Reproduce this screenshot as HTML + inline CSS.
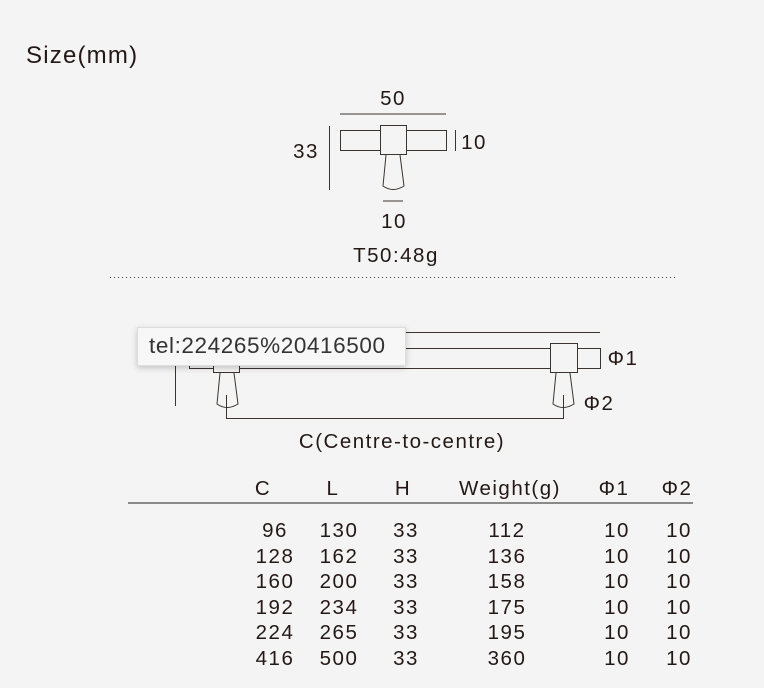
<!DOCTYPE html>
<html><head><meta charset="utf-8"><style>
html,body{margin:0;padding:0;background:#f4f4f4;width:764px;height:688px;overflow:hidden}
svg{display:block}
text{font-family:"Liberation Sans",sans-serif;fill:#231815}
.t{font-size:20.5px;letter-spacing:1.5px}
.tip{position:absolute;left:137px;top:327px;width:269px;height:39px;background:#f7f7f7;border:1px solid #ddd;box-shadow:0 2px 6px rgba(0,0,0,.2);box-sizing:border-box;font-family:"Liberation Sans",sans-serif;font-size:22.5px;color:#333;padding:5px 0 0 11px;letter-spacing:.6px;white-space:nowrap}
</style></head><body>
<svg width="764" height="688" viewBox="0 0 764 688" xmlns="http://www.w3.org/2000/svg">
<g stroke="#3a3330" fill="none" stroke-width="1">
<line x1="340" y1="114" x2="446" y2="114"/>
<rect x="340.5" y="130.5" width="106" height="20"/>
<rect x="380.5" y="125.5" width="26" height="29" fill="#f4f4f4"/>
<line x1="329.5" y1="126" x2="329.5" y2="190"/>
<line x1="455.5" y1="130" x2="455.5" y2="151"/>
<path d="M386 155 L383 186 Q393 193 404 186 L400 155"/>
<line x1="383" y1="201" x2="403" y2="201"/>
<line x1="110" y1="277.5" x2="676" y2="277.5" stroke-dasharray="1 3"/>
<line x1="185" y1="332.5" x2="600" y2="332.5"/>
<rect x="189.5" y="348.5" width="411" height="20"/>
<rect x="550.5" y="343.5" width="27" height="29" fill="#f4f4f4"/>
<rect x="213.5" y="343.5" width="26" height="29" fill="#f4f4f4"/>
<line x1="175.5" y1="340" x2="175.5" y2="406"/>
<path d="M220 373 L217 404 Q227 411 238 404 L234 373"/>
<path d="M556 373 L553 404 Q563 411 574 404 L570 373"/>
<path d="M226.5 395 L226.5 418.5 L563.5 418.5 L563.5 395"/>
<line x1="128" y1="503" x2="693" y2="503" stroke="#666" stroke-width="1.5"/>
</g>
<text x="26" y="63" style="font-size:24px;letter-spacing:1.2px">Size(mm)</text>
<g class="t" text-anchor="middle">
<text x="393" y="105">50</text>
<text x="306" y="158">33</text>
<text x="474" y="149">10</text>
<text x="394" y="228">10</text>
<text x="396" y="262">T50:48g</text>
<text x="623" y="365">Φ1</text>
<text x="599" y="410">Φ2</text>
<text x="402" y="448">C(Centre-to-centre)</text>
<text x="263" y="495">C</text>
<text x="333" y="495">L</text>
<text x="403" y="495">H</text>
<text x="510" y="495">Weight(g)</text>
<text x="614" y="495">Φ1</text>
<text x="677" y="495">Φ2</text>
</g>
<g class="t" text-anchor="middle">
<g transform="translate(0,537)"><text x="275">96</text><text x="339">130</text><text x="406">33</text><text x="507">112</text><text x="617">10</text><text x="679">10</text></g>
<g transform="translate(0,563)"><text x="275">128</text><text x="339">162</text><text x="406">33</text><text x="507">136</text><text x="617">10</text><text x="679">10</text></g>
<g transform="translate(0,588)"><text x="275">160</text><text x="339">200</text><text x="406">33</text><text x="507">158</text><text x="617">10</text><text x="679">10</text></g>
<g transform="translate(0,614)"><text x="275">192</text><text x="339">234</text><text x="406">33</text><text x="507">175</text><text x="617">10</text><text x="679">10</text></g>
<g transform="translate(0,639)"><text x="275">224</text><text x="339">265</text><text x="406">33</text><text x="507">195</text><text x="617">10</text><text x="679">10</text></g>
<g transform="translate(0,665)"><text x="275">416</text><text x="339">500</text><text x="406">33</text><text x="507">360</text><text x="617">10</text><text x="679">10</text></g>
</g>
</svg>
<div class="tip">tel:224265%20416500</div>
</body></html>
